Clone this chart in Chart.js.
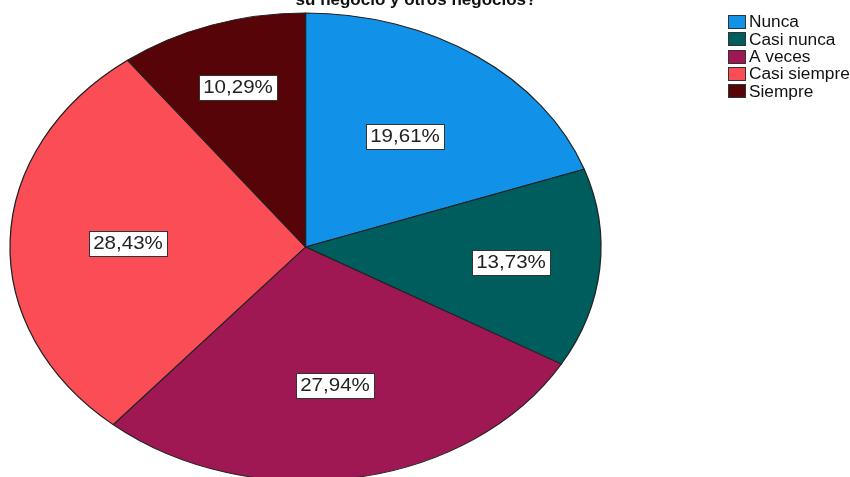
<!DOCTYPE html>
<html>
<head>
<meta charset="utf-8">
<script src="https://cdn.jsdelivr.net/npm/chart.js@4/dist/chart.umd.min.js"></script>
<style>
  html, body { margin: 0; padding: 0; background: #fff; }
  #wrap { width: 850px; height: 477px; position: relative; overflow: hidden; }
</style>
</head>
<body>
<div id="wrap"><canvas id="pie" width="850" height="477"></canvas></div>
<script>
(function() {
  const categories = ['Nunca', 'Casi nunca', 'A veces', 'Casi siempre', 'Siempre'];
  const percents = [19.61, 13.73, 27.94, 28.43, 10.29];
  const sliceColors = ['#1192e8', '#005d5d', '#9f1853', '#fa4d56', '#570408'];
  const titleText = 'su negocio y otros negocios?';

  // ellipse the pie is stretched into, and how far out each value box sits
  const PIE = { cx: 305.5, cy: 247, rx: 295.5, ry: 234 };
  const labelReach = [0.58, 0.7, 0.6, 0.6, 0.72];
  const TEXT_STRETCH = 1.08;

  const FONT = '"Liberation Sans", Arial, sans-serif';

  function fmt(v) { return v.toFixed(2).replace('.', ',') + '%'; }

  function arcTransform(chart) {
    const arc = chart.getDatasetMeta(0).data[0];
    const R = arc.outerRadius;
    return { x: arc.x, y: arc.y, sx: PIE.rx / R, sy: PIE.ry / R };
  }

  // text drawn slightly wider than the font's natural width
  function wideText(ctx, txt, x, y, align) {
    ctx.save();
    ctx.translate(x, y);
    ctx.scale(TEXT_STRETCH, 1);
    ctx.textAlign = align;
    ctx.fillText(txt, 0, 0);
    ctx.restore();
  }

  const ellipsePlugin = {
    id: 'ellipse',
    beforeDatasetsDraw(chart) {
      const t = arcTransform(chart);
      const ctx = chart.ctx;
      ctx.save();
      ctx.translate(PIE.cx, PIE.cy);
      ctx.scale(t.sx, t.sy);
      ctx.translate(-t.x, -t.y);
    },
    afterDatasetsDraw(chart) {
      chart.ctx.restore();
    },
    afterDraw(chart) {
      const ctx = chart.ctx;
      const arcs = chart.getDatasetMeta(0).data;

      // value boxes
      ctx.save();
      ctx.font = '19px ' + FONT;
      ctx.textBaseline = 'middle';
      arcs.forEach((a, i) => {
        const mid = (a.startAngle + a.endAngle) / 2;
        const f = labelReach[i];
        const x = Math.round(PIE.cx + f * PIE.rx * Math.cos(mid));
        const y = Math.round(PIE.cy + f * PIE.ry * Math.sin(mid));
        const txt = fmt(percents[i]);
        const w = Math.ceil(ctx.measureText(txt).width * TEXT_STRETCH) + 8;
        const h = 25;
        const bx = Math.round(x - w / 2), by = Math.round(y - h / 2);
        ctx.fillStyle = '#ffffff';
        ctx.fillRect(bx, by, w, h);
        ctx.strokeStyle = '#333333';
        ctx.lineWidth = 1;
        ctx.strokeRect(bx + 0.5, by + 0.5, w, h);
        ctx.fillStyle = '#222222';
        wideText(ctx, txt, x, y + 1, 'center');
      });
      ctx.restore();

      // title line, partly above the top edge
      ctx.save();
      ctx.font = 'bold 17px ' + FONT;
      ctx.textAlign = 'center';
      ctx.textBaseline = 'alphabetic';
      ctx.fillStyle = '#111111';
      ctx.fillText(titleText, 416, 5);
      ctx.restore();

      // legend
      ctx.save();
      ctx.font = '16px ' + FONT;
      ctx.textBaseline = 'middle';
      categories.forEach((c, i) => {
        const y = 22 + i * 17.3;
        const sy = Math.round(y - 7);
        ctx.fillStyle = sliceColors[i];
        ctx.fillRect(728, sy, 18, 14);
        ctx.strokeStyle = '#333333';
        ctx.lineWidth = 1;
        ctx.strokeRect(728.5, sy + 0.5, 17, 13);
        ctx.fillStyle = '#111111';
        wideText(ctx, c, 749, y + 1, 'left');
      });
      ctx.restore();
    }
  };

  new Chart(document.getElementById('pie').getContext('2d'), {
    type: 'pie',
    data: {
      labels: categories,
      datasets: [{
        data: percents,
        backgroundColor: sliceColors,
        borderColor: '#222222',
        borderWidth: 1,
        hoverOffset: 0
      }]
    },
    options: {
      responsive: false,
      animation: false,
      events: [],
      layout: { padding: { left: 71, right: 311, top: 13, bottom: 0 } },
      plugins: {
        legend: { display: false },
        tooltip: { enabled: false }
      }
    },
    plugins: [ellipsePlugin]
  });
})();
</script>
</body>
</html>
